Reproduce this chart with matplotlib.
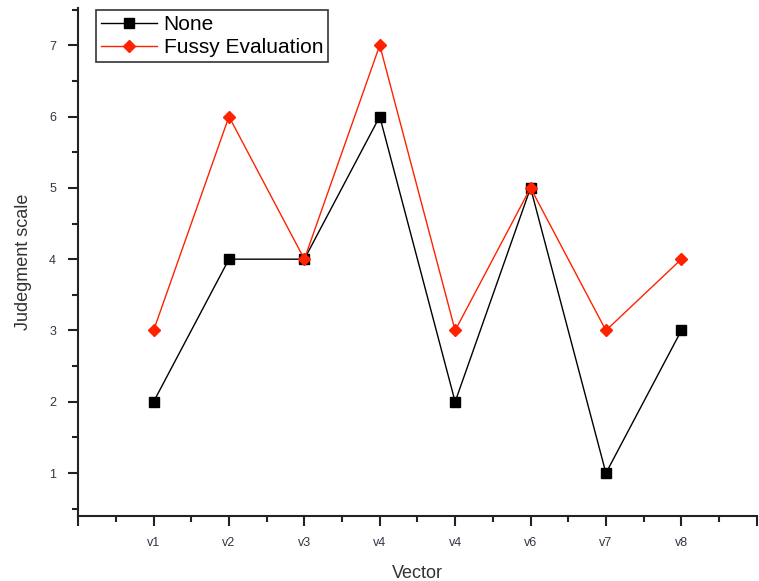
import matplotlib
matplotlib.use("Agg")
import matplotlib.pyplot as plt
from matplotlib.ticker import MultipleLocator

plt.rcParams['font.family'] = ['Liberation Sans', 'DejaVu Sans']

# data
vectors = ['v1', 'v2', 'v3', 'v4', 'v4', 'v6', 'v7', 'v8']
none_vals = [2, 4, 4, 6, 2, 5, 1, 3]
fussy_vals = [3, 6, 4, 7, 3, 5, 3, 4]

x = list(range(1, len(vectors) + 1))

fig = plt.figure(figsize=(7.59, 5.81), dpi=100)
ax = fig.add_axes([0.103, 0.112, 0.894, 0.874])

ax.plot(x, none_vals, color='black', lw=1.0, marker='s', markersize=7.5,
        label='None', zorder=3)
ax.plot(x, fussy_vals, color='#ff2200', lw=1.0, marker='D', markersize=6,
        label='Fussy Evaluation', zorder=4)

ax.set_xlim(0, 9)
ax.set_ylim(0.4, 7.52)

ax.set_xticks(range(0, 10))
ax.set_xticklabels([''] + vectors + [''])
ax.xaxis.set_minor_locator(MultipleLocator(0.5))
ax.set_yticks(range(1, 8))
ax.yaxis.set_minor_locator(MultipleLocator(0.5))

for s in ['top', 'right']:
    ax.spines[s].set_visible(False)
for s in ['left', 'bottom']:
    ax.spines[s].set_linewidth(1.5)
    ax.spines[s].set_color('#222222')

ax.tick_params(axis='both', which='major', direction='out', length=7, width=1.5,
               labelsize=9, labelcolor='#333344', color='#222222')
ax.tick_params(axis='both', which='minor', direction='out', length=4, width=1.5,
               color='#222222')
ax.tick_params(axis='x', pad=8)
ax.tick_params(axis='y', pad=9)

ax.set_xlabel('Vector', fontsize=13, color='#333333', labelpad=12)
ax.set_ylabel('Judegment scale', fontsize=13, color='#333333', labelpad=12)

leg = ax.legend(loc='upper left', bbox_to_anchor=(0.026, 0.997), fontsize=15,
                frameon=True, fancybox=False, edgecolor='black',
                borderpad=0.25, handlelength=2.7, handletextpad=0.3,
                labelspacing=0.2, borderaxespad=0.0)
leg.get_frame().set_linewidth(1.2)

fig.savefig('out.png', dpi=100)
